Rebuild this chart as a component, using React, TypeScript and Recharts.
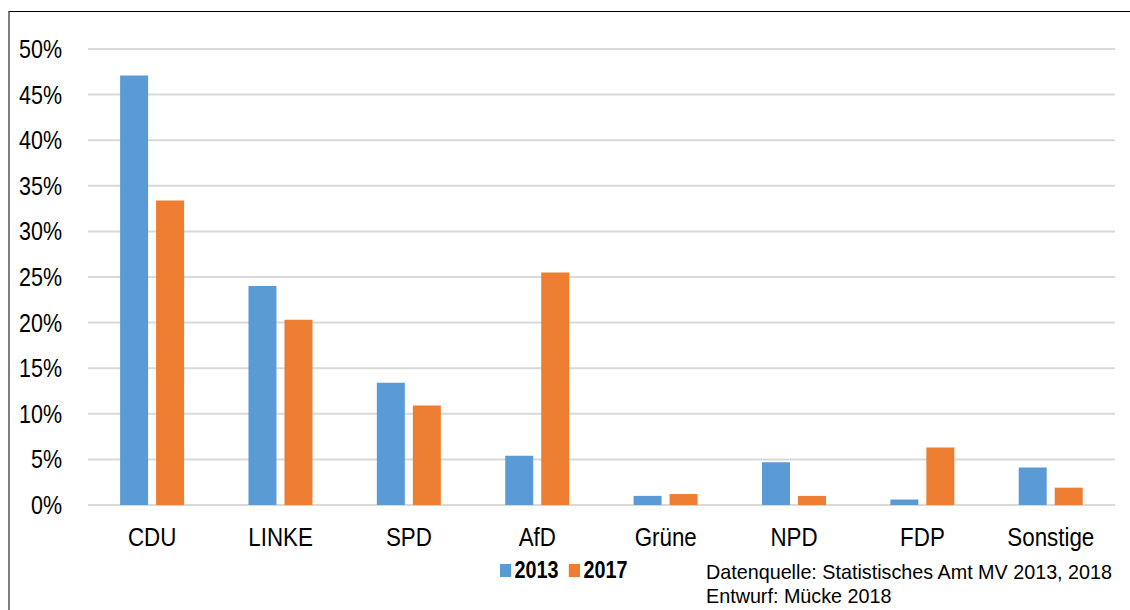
import { BarChart, Bar, XAxis, YAxis, CartesianGrid } from "recharts";

const parties = ["CDU", "LINKE", "SPD", "AfD", "Grüne", "NPD", "FDP", "Sonstige"];
const share2013 = [47.1, 24.0, 13.4, 5.4, 1.0, 4.7, 0.6, 4.1];
const share2017 = [33.4, 20.3, 10.9, 25.5, 1.2, 1.0, 6.3, 1.9];
const yTicks = [0, 5, 10, 15, 20, 25, 30, 35, 40, 45, 50];
const seriesNames = ["2013", "2017"];
const seriesColors = ["#5b9bd5", "#ed7d31"];

const data = parties.map((party, i) => ({
  party,
  y2013: share2013[i],
  y2017: share2017[i],
}));

const FONT = "'Liberation Sans', Arial, sans-serif";
// the source uses a condensed face; squeeze the regular one instead
const SQUEEZE = 0.86;

function YTick({ x, y, payload }: any) {
  return (
    <g transform={`translate(${x},${y}) scale(${SQUEEZE},1)`}>
      <text textAnchor="end" dy="0.36em" fontFamily={FONT} fontSize={25} fill="#000">
        {`${payload.value}%`}
      </text>
    </g>
  );
}

function XTick({ x, y, payload }: any) {
  return (
    <g transform={`translate(${x},${y}) scale(${SQUEEZE},1)`}>
      <text textAnchor="middle" dy="0.72em" fontFamily={FONT} fontSize={26} fill="#000">
        {payload.value}
      </text>
    </g>
  );
}

export default function App() {
  return (
    <div style={{ position: "absolute", left: 0, top: 0, width: 1130, height: 610, background: "#fff", overflow: "hidden" }}>
      <div
        style={{
          position: "absolute",
          left: 8,
          top: 11,
          right: -2,
          bottom: -2,
          borderTop: "1px solid #000",
          borderLeft: "2px solid #7f7f7f",
        }}
      />
      <BarChart
        width={1130}
        height={610}
        data={data}
        margin={{ top: 49, right: 15, left: 0, bottom: 75 }}
        barCategoryGap="25%"
        barGap={8}
      >
        <CartesianGrid vertical={false} stroke="#d9d9d9" strokeWidth={2} />
        <XAxis
          dataKey="party"
          axisLine={false}
          tickLine={false}
          tickSize={0}
          tickMargin={22}
          height={30}
          tick={<XTick />}
        />
        <YAxis
          domain={[0, 50]}
          ticks={yTicks}
          width={88}
          axisLine={false}
          tickLine={false}
          tickSize={0}
          tickMargin={26}
          tick={<YTick />}
        />
        <Bar dataKey="y2013" name={seriesNames[0]} fill={seriesColors[0]} isAnimationActive={false} />
        <Bar dataKey="y2017" name={seriesNames[1]} fill={seriesColors[1]} isAnimationActive={false} />
      </BarChart>

      <div
        style={{
          position: "absolute",
          left: 500,
          top: 558,
          display: "flex",
          alignItems: "center",
          fontFamily: FONT,
          fontWeight: 700,
          fontSize: 23,
          lineHeight: "24px",
          transform: `scaleX(${SQUEEZE})`,
          transformOrigin: "left center",
        }}
      >
        {seriesNames.map((name, i) => (
          <div key={name} style={{ display: "flex", alignItems: "center", marginRight: 12 }}>
            <span style={{ display: "inline-block", width: 13, height: 13, background: seriesColors[i], marginRight: 4 }} />
            <span>{name}</span>
          </div>
        ))}
      </div>

      <div
        style={{
          position: "absolute",
          left: 706,
          top: 560,
          fontFamily: FONT,
          fontSize: 21,
          lineHeight: "24px",
          color: "#000",
          whiteSpace: "nowrap",
          transform: "scaleX(0.94)",
          transformOrigin: "left top",
        }}
      >
        <div>Datenquelle: Statistisches Amt MV 2013, 2018</div>
        <div>Entwurf: Mücke 2018</div>
      </div>
    </div>
  );
}
